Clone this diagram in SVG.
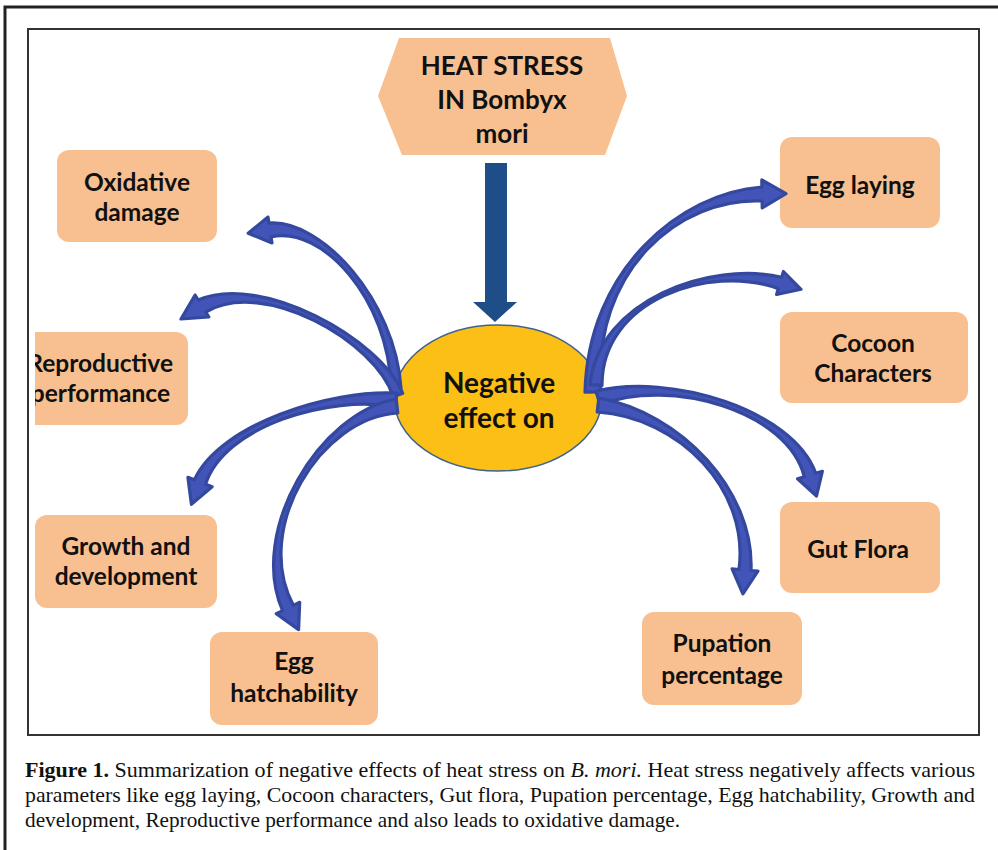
<svg xmlns="http://www.w3.org/2000/svg" width="998" height="850" viewBox="0 0 998 850">
<style>
.box{fill:#F8C090;}
.lbl{font-family:Lato,"Open Sans",sans-serif;font-weight:700;font-size:24.5px;fill:#111;text-anchor:middle;}
.hdr{font-family:Lato,"Open Sans",sans-serif;font-weight:700;font-size:26px;fill:#111;text-anchor:middle;}
.ctr{font-family:Lato,"Open Sans",sans-serif;font-weight:700;font-size:28px;fill:#111;text-anchor:middle;}
.arc{fill:#4254B8;stroke:#34489E;stroke-width:3.2;stroke-linejoin:round;}
.cap{font-family:"Liberation Serif","Times New Roman",serif;font-size:22px;fill:#111;}
</style>
<defs>
<clipPath id="clipL"><rect x="35" y="0" width="963" height="850"/></clipPath>
</defs>
<rect x="0" y="0" width="998" height="850" fill="#fff"/>
<path d="M5,850 V7 H998" fill="none" stroke="#222" stroke-width="3"/>
<rect x="28" y="29" width="951" height="706" fill="none" stroke="#333" stroke-width="2"/>

<g id="node-heat">
<polygon class="box" points="378,96 399,38 610,38 627,96 605,155 402,155"/>
<text class="hdr" x="502" y="75">HEAT STRESS</text>
<text class="hdr" x="502" y="109">IN Bombyx</text>
<text class="hdr" x="502" y="143">mori</text>
</g>

<g id="node-oxidative">
<rect class="box" x="57" y="150" width="160" height="92" rx="12"/>
<text class="lbl" x="137" y="191">Oxidative</text>
<text class="lbl" x="137" y="221">damage</text>
</g>

<g id="node-reproductive" clip-path="url(#clipL)">
<rect class="box" x="20" y="332" width="168" height="93" rx="12"/>
<text class="lbl" x="173" y="372" style="text-anchor:end">Reproductive</text>
<text class="lbl" x="170" y="402" style="text-anchor:end">performance</text>
</g>

<g id="node-growth">
<rect class="box" x="35" y="515" width="182" height="93" rx="12"/>
<text class="lbl" x="126" y="555">Growth and</text>
<text class="lbl" x="126" y="585">development</text>
</g>

<g id="node-hatch">
<rect class="box" x="210" y="632" width="168" height="93" rx="12"/>
<text class="lbl" x="294" y="670">Egg</text>
<text class="lbl" x="294" y="702">hatchability</text>
</g>

<g id="node-egglaying">
<rect class="box" x="780" y="137" width="160" height="91" rx="12"/>
<text class="lbl" x="860" y="194">Egg laying</text>
</g>

<g id="node-cocoon">
<rect class="box" x="780" y="312" width="188" height="91" rx="12"/>
<text class="lbl" x="873" y="352">Cocoon</text>
<text class="lbl" x="873" y="382">Characters</text>
</g>

<g id="node-gut">
<rect class="box" x="780" y="502" width="160" height="91" rx="12"/>
<text class="lbl" x="858" y="558">Gut Flora</text>
</g>

<g id="node-pupation">
<rect class="box" x="642" y="612" width="160" height="93" rx="12"/>
<text class="lbl" x="722" y="652">Pupation</text>
<text class="lbl" x="722" y="684">percentage</text>
</g>

<g id="node-negative">
<ellipse cx="498" cy="398" rx="104" ry="73" fill="#FCBF16" stroke="#41618F" stroke-width="1.5"/>
<text class="ctr" x="499" y="393">Negative</text>
<text class="ctr" x="499" y="428">effect on</text>
</g>

<g id="connectors">
<polygon points="485,163 507,163 507,302 517,302 495,322 473,302 485,302" fill="#1E4D88"/>
<path class="arc" d="M401,388 C395,300 321.5,219 269,223.1 L268,217.1 L248.2,233.3 L272,242.9 L271,236.9 C322.5,225 389,300 391,388 Z"/>
<path class="arc" d="M402.7,393.3 C380.8,339 260.4,272.4 198.3,300 L195.1,295 L181,319 L208.9,317 L205.7,312 C263.6,277.6 375.2,341 393.3,396.7 Z"/>
<path class="arc" d="M396.8,393.1 C330.3,389.5 219.7,424.1 194.4,479.8 L187.9,477.3 L191.4,504.3 L212.1,486.7 L205.6,484.2 C224.3,425.9 329.7,394.5 395.2,406.9 Z"/>
<path class="arc" d="M396.2,399 C319.7,412.5 247.75,531.1 282.6,610.6 L276.3,613.7 L298.6,629.6 L299.7,602.3 L293.4,605.4 C252.25,528.9 320.3,417.5 397.8,413 Z"/>
<path class="arc" d="M601,391.8 C592,270 680,197 762.1,201 L762.2,208 L786,193.7 L761.8,180 L761.9,187 C680,193 588,270 585,392.2 Z"/>
<path class="arc" d="M602,385.3 C601.5,300.07 709.57,263.44 778.3,288.7 L776.6,294.5 L801,289.3 L783.4,271.5 L781.7,277.3 C710.43,260.56 598.5,299.93 590,384.7 Z"/>
<path class="arc" d="M600.1,404.7 C670.8,377.4 787.6,410.7 804.3,476.8 L797.6,478.8 L816.5,496 L822.4,471.2 L815.7,473.2 C792.4,409.3 669.2,372.6 595.9,391.3 Z"/>
<path class="arc" d="M597.2,412 C679.7,417.5 749.5,489.8 739,569.5 L732.1,568.9 L742.9,593.9 L757.9,571.1 L751,570.5 C754.5,490.2 680.3,412.5 598.8,398 Z"/>
</g>

<g id="caption">
<text class="cap" x="25" y="777" textLength="950" lengthAdjust="spacingAndGlyphs"><tspan font-weight="bold">Figure 1.</tspan> Summarization of negative effects of heat stress on <tspan font-style="italic">B. mori.</tspan> Heat stress negatively affects various</text>
<text class="cap" x="25" y="802" textLength="950" lengthAdjust="spacingAndGlyphs">parameters like egg laying, Cocoon characters, Gut flora, Pupation percentage, Egg hatchability, Growth and</text>
<text class="cap" x="25" y="827" textLength="655" lengthAdjust="spacingAndGlyphs">development, Reproductive performance and also leads to oxidative damage.</text>
</g>
</svg>
